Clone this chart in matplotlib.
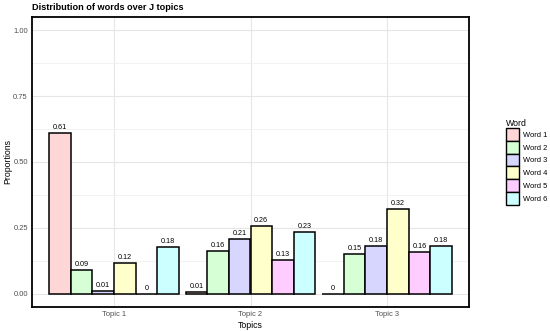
import numpy as np
import matplotlib.pyplot as plt
from matplotlib.patches import Patch

plt.rcParams['font.family'] = ['Liberation Sans', 'DejaVu Sans']

topics = ["Topic 1", "Topic 2", "Topic 3"]
words = ["Word 1", "Word 2", "Word 3", "Word 4", "Word 5", "Word 6"]
colors = ["#FFD6D6", "#D6FFD6", "#D6D6FF", "#FFFFCC", "#FFCCFF", "#CCFFFF"]

# proportion of each word within each topic
props = {
    "Word 1": [0.61, 0.007, 0.0],
    "Word 2": [0.09, 0.163, 0.152],
    "Word 3": [0.01, 0.207, 0.183],
    "Word 4": [0.116, 0.259, 0.322],
    "Word 5": [0.0, 0.128, 0.16],
    "Word 6": [0.179, 0.235, 0.183],
}

fig = plt.figure(figsize=(5.5, 3.31), dpi=100)
ax = fig.add_axes([32 / 550, 24 / 331, 437 / 550, 290 / 331])

x = np.arange(1, len(topics) + 1)
group_w = 0.95
bar_w = group_w / len(words)

for i, w in enumerate(words):
    pos = x - group_w / 2 + bar_w * (i + 0.5)
    vals = props[w]
    ax.bar(pos, vals, width=bar_w, color=colors[i], edgecolor="black",
           linewidth=1.1, zorder=3)
    for p, v in zip(pos, vals):
        lab = "0" if round(v, 2) == 0 else f"{v:.2f}"
        ax.text(p, v + 0.007, lab, ha="center", va="bottom", fontsize=5.2,
                color="black", zorder=4)

ax.set_xlim(0.4, 3.6)
ax.set_ylim(-0.05, 1.05)
ax.set_xticks(x)
ax.set_xticklabels(topics)
ax.set_yticks([0, 0.25, 0.5, 0.75, 1.0])
ax.set_yticklabels(["0.00", "0.25", "0.50", "0.75", "1.00"])
ax.set_yticks([0.125, 0.375, 0.625, 0.875], minor=True)

ax.grid(True, which="major", color="#E6E6E6", linewidth=0.8, zorder=0)
ax.grid(True, which="minor", axis="y", color="#F0F0F0", linewidth=0.6, zorder=0)
ax.tick_params(axis="both", which="both", length=0, labelsize=5.4,
               colors="#4D4D4D", pad=3)

for s in ax.spines.values():
    s.set_linewidth(1.3)
    s.set_color("black")

ax.set_xlabel("Topics", fontsize=6.3, labelpad=2)
ax.set_ylabel("Proportions", fontsize=6.3, labelpad=1)
ax.set_title("Distribution of words over J topics", fontsize=6.6, fontweight="bold",
             loc="left", x=0.0, pad=5)

handles = [Patch(facecolor=c, edgecolor="black", linewidth=1.0) for c in colors]
fig.legend(handles, words, title="Word", loc="upper left",
           bbox_to_anchor=(500 / 550, 1 - 113 / 331), frameon=False,
           fontsize=5.4, title_fontsize=6.3, handlelength=1.75, handleheight=2.25,
           labelspacing=0.0, handletextpad=0.5, alignment="left", borderpad=0.3)

fig.savefig("out.png", dpi=100)
